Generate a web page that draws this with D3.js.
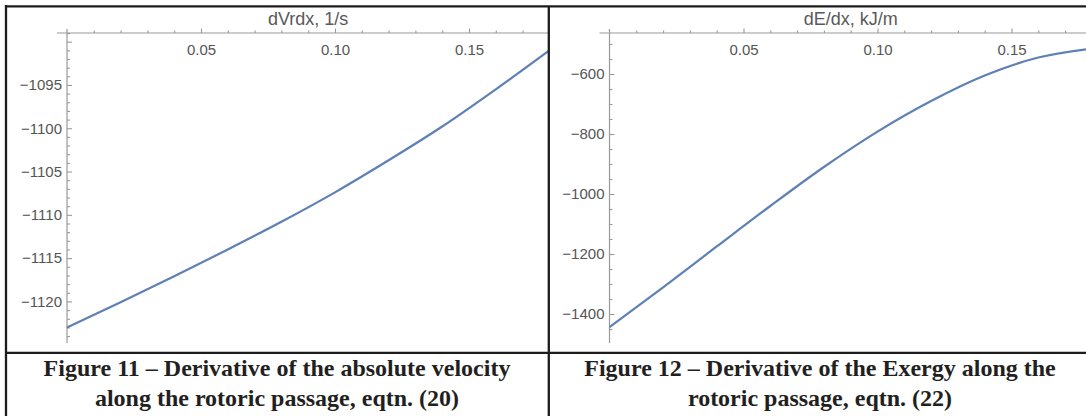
<!DOCTYPE html>
<html>
<head>
<meta charset="utf-8">
<script src="https://cdnjs.cloudflare.com/ajax/libs/d3/7.8.5/d3.min.js"></script>
<style>
  html, body { margin: 0; padding: 0; background: #fff; }
  svg { display: block; }
  .plot-label { font-family: 'Liberation Sans', Arial, sans-serif; font-size: 18px; fill: #595959; }
  .caption { font-family: 'Liberation Serif', 'Times New Roman', serif; font-weight: bold; font-size: 24px; fill: #231f20; }
</style>
</head>
<body>
<div class="container"></div>
<script>
// x position along the passage, m
const xValues = [0, 0.02, 0.04, 0.06, 0.08, 0.10, 0.12, 0.14, 0.16, 0.18];
// Figure 11: dVr/dx, 1/s
const dVrdxValues = [-1123.0, -1120.1, -1117.1, -1114.0, -1110.8, -1107.4, -1103.7, -1099.8, -1095.5, -1091.0];
// Figure 12: dE/dx, kJ/m
const dEdxValues = [-1444, -1311, -1175, -1040, -910, -792, -690, -605, -545, -515];

const xMajorTicks = [0.05, 0.10, 0.15];
const xMinorTicks = [0.01, 0.02, 0.03, 0.04, 0.06, 0.07, 0.08, 0.09, 0.11, 0.12, 0.13, 0.14, 0.16, 0.17];
const dVrdxMajorTicks = [-1120, -1115, -1110, -1105, -1100, -1095, -1090];
const dVrdxLabelTicks = [-1120, -1115, -1110, -1105, -1100, -1095];
const dEdxMajorTicks = [-1400, -1200, -1000, -800, -600];
const dEdxMinorTicks = [-1450, -1350, -1300, -1250, -1150, -1100, -1050, -950, -900, -850, -750, -700, -650, -550, -500];

const captions = [
  ['Figure 11 \u2013 Derivative of the absolute velocity', 'along the rotoric passage, eqtn. (20)'],
  ['Figure 12 \u2013 Derivative of the Exergy along the', 'rotoric passage, eqtn. (22)']
];

const width = 1086;
const height = 416;
const axisTop = 33;
const axisBottom = 343;
const lineColor = '#5e81b5';
const axisColor = '#9a9a9a';
const textColor = '#555555';
const borderColor = '#1c1c1c';

const svg = d3
  .select('.container')
  .append('svg')
  .attr('width', width)
  .attr('height', height);

const dVrdxMinorTicks = d3.range(-1124, -1088, 1).filter(v => v % 5 !== 0);

const panels = [
  {
    id: 'p11',
    left: 67,
    clipLeft: 7,
    clipRight: 548,
    yDomain: [-1124.8, -1089.0],
    values: dVrdxValues,
    majors: dVrdxMajorTicks,
    labels: dVrdxLabelTicks,
    minors: dVrdxMinorTicks,
    label: 'dVrdx, 1/s'
  },
  {
    id: 'p12',
    left: 609.5,
    clipLeft: 549,
    clipRight: 1086,
    yDomain: [-1496.7, -463.3],
    values: dEdxValues,
    majors: dEdxMajorTicks,
    labels: dEdxMajorTicks,
    minors: dEdxMinorTicks,
    label: 'dE/dx, kJ/m'
  }
];

const styleAxis = a => {
  a.select('.domain').remove();
  a.attr('font-family', "'Liberation Sans', Arial, sans-serif")
    .attr('font-size', 15);
  a.selectAll('.tick text').attr('fill', textColor);
  a.selectAll('.tick line').attr('stroke-width', 1.1);
};

const drawPanel = p => {
  const x = d3.scaleLinear().domain([0, 0.18]).range([p.left, p.left + 482.4]);
  const y = d3.scaleLinear().domain(p.yDomain).range([axisBottom, axisTop]);

  svg
    .append('clipPath')
    .attr('id', `clip-${p.id}`)
    .append('rect')
    .attr('x', p.clipLeft)
    .attr('y', 0)
    .attr('width', p.clipRight - p.clipLeft)
    .attr('height', height);

  const g = svg
    .append('g')
    .attr('clip-path', `url(#clip-${p.id})`)
    .attr('color', axisColor);

  // axis lines, a little longer than the plot range
  g.append('line')
    .attr('x1', p.left - 10)
    .attr('x2', x.range()[1] + 5)
    .attr('y1', axisTop)
    .attr('y2', axisTop)
    .attr('stroke', axisColor)
    .attr('stroke-width', 1.2);

  g.append('line')
    .attr('x1', p.left)
    .attr('x2', p.left)
    .attr('y1', axisTop - 4)
    .attr('y2', axisBottom)
    .attr('stroke', axisColor)
    .attr('stroke-width', 1.2);

  // x ticks (point up, labels under the axis)
  g.append('g')
    .attr('transform', `translate(0, ${axisTop})`)
    .call(d3.axisBottom(x).tickValues(xMajorTicks).tickSize(-4.5).tickPadding(11).tickFormat(d3.format('.2f')))
    .call(styleAxis);

  g.append('g')
    .attr('transform', `translate(0, ${axisTop})`)
    .call(d3.axisBottom(x).tickValues(xMinorTicks).tickSize(-2.5).tickFormat(''))
    .call(styleAxis);

  // y ticks (point right, labels left)
  g.append('g')
    .attr('transform', `translate(${p.left}, 0)`)
    .call(
      d3
        .axisLeft(y)
        .tickValues(p.majors)
        .tickSize(-5)
        .tickPadding(5)
        .tickFormat(v => (p.labels.includes(v) ? d3.format('d')(v) : ''))
    )
    .call(styleAxis);

  g.append('g')
    .attr('transform', `translate(${p.left}, 0)`)
    .call(d3.axisLeft(y).tickValues(p.minors).tickSize(-3).tickFormat(''))
    .call(styleAxis);

  const line = d3
    .line()
    .x((d, i) => x(xValues[i]))
    .y(d => y(d))
    .curve(d3.curveMonotoneX);

  g.append('path')
    .datum(p.values)
    .attr('d', line)
    .attr('fill', 'none')
    .attr('stroke', lineColor)
    .attr('stroke-width', 2.2);

  g.append('text')
    .attr('class', 'plot-label')
    .attr('x', (x.range()[0] + x.range()[1]) / 2)
    .attr('y', 25)
    .attr('text-anchor', 'middle')
    .text(p.label);
};

panels.forEach(drawPanel);

// table borders
const borders = [
  [6, 5, 6, height],
  [5, 6.3, width, 6.3],
  [548.8, 6, 548.8, height],
  [5, 352.8, width, 352.8]
];

svg
  .selectAll('.border')
  .data(borders)
  .enter()
  .append('line')
  .attr('class', 'border')
  .attr('x1', d => d[0])
  .attr('y1', d => d[1])
  .attr('x2', d => d[2])
  .attr('y2', d => d[3])
  .attr('stroke', borderColor)
  .attr('stroke-width', 2.3);

// figure captions
const captionCenters = [277, 820];

captions.forEach((lines, i) => {
  svg
    .selectAll(null)
    .data(lines)
    .enter()
    .append('text')
    .attr('class', 'caption')
    .attr('x', captionCenters[i])
    .attr('y', (d, j) => 376 + j * 30)
    .attr('text-anchor', 'middle')
    .text(d => d);
});
</script>
</body>
</html>
